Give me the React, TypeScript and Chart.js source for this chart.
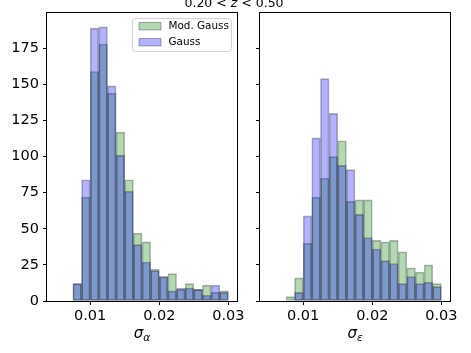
import React, { useEffect, useRef } from 'react';
import { Chart, registerables } from 'chart.js';

Chart.register(...registerables);

// ---- data ----
const binCenters = [
  0.005625, 0.006875, 0.008125, 0.009375, 0.010625, 0.011875, 0.013125, 0.014375,
  0.015625, 0.016875, 0.018125, 0.019375, 0.020625, 0.021875, 0.023125, 0.024375,
  0.025625, 0.026875, 0.028125, 0.029375,
];
const modGaussAlpha = [0, 0, 12, 72, 159, 178, 144, 117, 84, 47, 41, 22, 17, 19, 8, 12, 8, 11, 6, 7];
const gaussAlpha = [0, 0, 12, 84, 189, 190, 149, 101, 76, 39, 27, 21, 17, 7, 9, 9, 8, 4, 11, 6];
const modGaussEps = [0, 0, 3, 16, 40, 72, 85, 100, 111, 69, 70, 70, 42, 41, 42, 34, 23, 20, 25, 12];
const gaussEps = [0, 0, 0, 6, 59, 113, 154, 130, 94, 91, 60, 44, 36, 28, 26, 12, 17, 12, 13, 10];
const seriesLabels = ['Mod. Gauss', 'Gauss'];
const xTicks = [0.01, 0.02, 0.03];
const xTickLabels = ['0.01', '0.02', '0.03'];
const yTicks = [0, 25, 50, 75, 100, 125, 150, 175];
const yTickLabels = ['0', '25', '50', '75', '100', '125', '150', '175'];
const xRange = [0.00375, 0.03125];
const yRange = [0, 199.5];

const FAMILY = "'DejaVu Sans', sans-serif";
const GREEN = 'rgba(0,128,0,0.3)';
const BLUE = 'rgba(0,0,255,0.3)';
const EDGE = 'rgba(0,0,0,0.3)';

const framePlugin = {
  id: 'frame',
  afterDatasetsDraw(chart: any) {
    const { ctx, chartArea: a } = chart;
    ctx.save();
    ctx.strokeStyle = '#000';
    ctx.lineWidth = 1;
    ctx.strokeRect(a.left - 0.5, a.top - 0.5, a.right - a.left + 1, a.bottom - a.top + 1);
    ctx.restore();
  },
};

const axisTitlePlugin = (sub: string) => ({
  id: 'axtitle',
  afterDraw(chart: any) {
    const { ctx, chartArea: a } = chart;
    const cx = (a.left + a.right) / 2;
    const f1 = `italic 15px ${FAMILY}`;
    const f2 = `italic 10.5px ${FAMILY}`;
    ctx.save();
    ctx.fillStyle = '#000';
    ctx.textBaseline = 'alphabetic';
    ctx.textAlign = 'left';
    ctx.font = f1;
    const w1 = ctx.measureText('σ').width;
    ctx.font = f2;
    const w2 = ctx.measureText(sub).width;
    const x0 = cx - (w1 + w2) / 2;
    ctx.font = f1;
    ctx.fillText('σ', x0, a.bottom + 36.5);
    ctx.font = f2;
    ctx.fillText(sub, x0 + w1, a.bottom + 40);
    ctx.restore();
  },
});

function roundRectPath(ctx: any, x: number, y: number, w: number, h: number, r: number) {
  ctx.beginPath();
  ctx.moveTo(x + r, y);
  ctx.lineTo(x + w - r, y);
  ctx.quadraticCurveTo(x + w, y, x + w, y + r);
  ctx.lineTo(x + w, y + h - r);
  ctx.quadraticCurveTo(x + w, y + h, x + w - r, y + h);
  ctx.lineTo(x + r, y + h);
  ctx.quadraticCurveTo(x, y + h, x, y + h - r);
  ctx.lineTo(x, y + r);
  ctx.quadraticCurveTo(x, y, x + r, y);
  ctx.closePath();
}

const legendPlugin = {
  id: 'mplLegend',
  afterDraw(chart: any) {
    const { ctx, chartArea: a } = chart;
    const bx = a.right - 104.5;
    const by = a.top + 5.5;
    const bw = 99;
    const bh = 33;
    ctx.save();
    roundRectPath(ctx, bx, by, bw, bh, 3);
    ctx.fillStyle = 'rgba(255,255,255,0.8)';
    ctx.fill();
    ctx.strokeStyle = 'rgba(204,204,204,0.9)';
    ctx.lineWidth = 1;
    ctx.stroke();
    const rows = [a.top + 13.2, a.top + 29.2];
    chart.data.datasets.forEach((ds: any, i: number) => {
      const cy = rows[i];
      ctx.fillStyle = ds.backgroundColor;
      ctx.fillRect(bx + 6.5, cy - 3.75, 22, 7.5);
      ctx.strokeStyle = ds.borderColor;
      ctx.strokeRect(bx + 6.5, cy - 3.75, 22, 7.5);
      ctx.fillStyle = '#000';
      ctx.font = `10.4px ${FAMILY}`;
      ctx.textBaseline = 'middle';
      ctx.textAlign = 'left';
      ctx.fillText(ds.label, bx + 36, cy + 0.5);
    });
    ctx.restore();
  },
};

function makeChart(
  canvas: HTMLCanvasElement,
  mod: number[],
  gauss: number[],
  sub: string,
  showYLabels: boolean,
  showLegend: boolean,
  yAxisWidth: number,
  padRight: number
) {
  const ds = (label: string, vals: number[], color: string, order: number) => ({
    label,
    order,
    data: binCenters.map((x, i) => ({ x, y: vals[i] })),
    backgroundColor: color,
    borderColor: EDGE,
    borderWidth: 1,
    borderSkipped: false,
    grouped: false,
    barPercentage: 1,
    categoryPercentage: 1,
  });
  const tickFont = { family: FAMILY, size: 14.5 };
  const plugins: any[] = [framePlugin, axisTitlePlugin(sub)];
  if (showLegend) plugins.push(legendPlugin);
  return new Chart(canvas, {
    type: 'bar',
    data: {
      // Mod. Gauss drawn first (higher order), Gauss drawn on top
      datasets: [ds(seriesLabels[0], mod, GREEN, 1), ds(seriesLabels[1], gauss, BLUE, 0)] as any,
    },
    options: {
      animation: false,
      responsive: false,
      events: [],
      layout: { padding: { top: 13, right: padRight, left: 0, bottom: 0 } },
      plugins: {
        legend: { display: false },
        title: { display: false },
        tooltip: { enabled: false },
      },
      scales: {
        x: {
          type: 'linear',
          min: xRange[0],
          max: xRange[1],
          offset: false,
          afterBuildTicks: (s: any) => {
            s.ticks = xTicks.map((v) => ({ value: v }));
          },
          afterFit: (s: any) => {
            s.height = 52;
          },
          grid: {
            display: true,
            offset: false,
            drawOnChartArea: false,
            drawTicks: true,
            tickLength: 4,
            color: '#000',
            lineWidth: 1,
          },
          border: { display: false },
          ticks: {
            color: '#000',
            font: tickFont,
            padding: 3,
            maxRotation: 0,
            autoSkip: false,
            callback: (_v: any, i: number) => xTickLabels[i],
          },
        },
        y: {
          type: 'linear',
          min: yRange[0],
          max: yRange[1],
          afterBuildTicks: (s: any) => {
            s.ticks = yTicks.map((v) => ({ value: v }));
          },
          afterFit: (s: any) => {
            s.width = yAxisWidth;
          },
          grid: {
            display: true,
            drawOnChartArea: false,
            drawTicks: true,
            tickLength: 4,
            color: '#000',
            lineWidth: 1,
          },
          border: { display: false },
          ticks: {
            color: '#000',
            font: tickFont,
            padding: 4,
            autoSkip: false,
            callback: (_v: any, i: number) => (showYLabels ? yTickLabels[i] : ''),
          },
        },
      },
    } as any,
    plugins,
  });
}

export default function App() {
  const leftRef = useRef<HTMLCanvasElement>(null);
  const rightRef = useRef<HTMLCanvasElement>(null);

  useEffect(() => {
    const c1 = makeChart(leftRef.current!, modGaussAlpha, gaussAlpha, 'α', true, true, 47, 11);
    const c2 = makeChart(rightRef.current!, modGaussEps, gaussEps, 'ε', false, false, 12, 21);
    return () => {
      c1.destroy();
      c2.destroy();
    };
  }, []);

  return (
    <div
      style={{
        position: 'absolute',
        left: 0,
        top: 0,
        width: 471,
        height: 353,
        background: '#fff',
        overflow: 'hidden',
      }}
    >
      <canvas ref={leftRef} width={248} height={353} style={{ position: 'absolute', left: 0, top: 0 }} />
      <canvas ref={rightRef} width={223} height={353} style={{ position: 'absolute', left: 248, top: 0 }} />
      <div
        style={{
          position: 'absolute',
          left: 134,
          top: -2.6,
          width: 200,
          textAlign: 'center',
          fontFamily: FAMILY,
          fontSize: '12.5px',
          lineHeight: '12.5px',
          color: '#000',
          whiteSpace: 'nowrap',
        }}
      >
        0.20 &lt; <i>z</i> &lt; 0.50
      </div>
    </div>
  );
}
